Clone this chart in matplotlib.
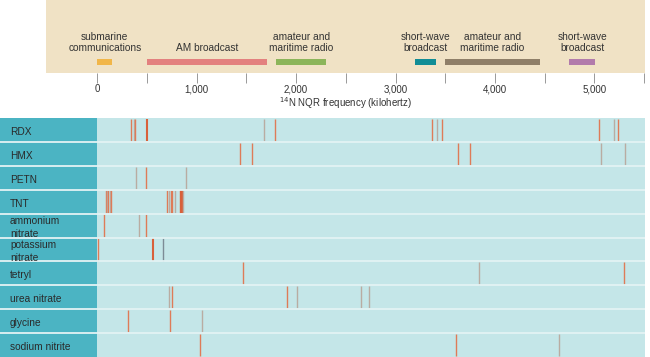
import matplotlib
matplotlib.use("Agg")
import matplotlib.pyplot as plt
from matplotlib.patches import Rectangle

plt.rcParams['font.family'] = ['Liberation Sans', 'DejaVu Sans']

# ---- data ----
band_labels = ["submarine\ncommunications", "AM broadcast", "amateur and\nmaritime radio",
               "short-wave\nbroadcast", "amateur and\nmaritime radio", "short-wave\nbroadcast"]
band_start = [0, 500, 1800, 3200, 3500, 4750]
band_end = [150, 1710, 2300, 3410, 4450, 5010]
band_colors = ["#f1b649", "#e3817f", "#8cb55a", "#118d96", "#8f7f68", "#b27bab"]

major_ticks = [0, 1000, 2000, 3000, 4000, 5000]
minor_ticks = [500, 1500, 2500, 3500, 4500, 5500]
tick_labels = ["0", "1,000", "2,000", "3,000", "4,000", "5,000"]

compounds = ["RDX", "HMX", "PETN", "TNT", "ammonium\nnitrate", "potassium\nnitrate",
             "tetryl", "urea nitrate", "glycine", "sodium nitrite"]

rdx_f = [344, 374, 384, 495, 1680, 1788, 3370, 3414, 3468, 5050, 5195, 5242]
rdx_c = ["o", "g", "o", "O", "g", "o", "o", "g", "o", "o", "g", "o"]
hmx_f = [1439, 1560, 3625, 3750, 5064, 5306]
hmx_c = ["o", "o", "o", "o", "g", "g"]
petn_f = [386, 490, 889]
petn_c = ["g", "o", "g"]
tnt_f = [88, 98, 111, 128, 138, 704, 718, 741, 755, 782, 832, 840, 848, 857, 866]
tnt_c = ["o", "g", "o", "g", "o", "o", "g", "o", "o", "g", "o", "O", "o", "O", "g"]
an_f = [71, 416, 490]
an_c = ["o", "g", "o"]
kn_f = [10, 557, 661]
kn_c = ["o", "O", "b"]
tetryl_f = [1463, 3837, 5302]
tetryl_c = ["o", "g", "o"]
urea_f = [721, 748, 1905, 2009, 2653, 2733]
urea_c = ["g", "o", "o", "g", "g", "g"]
gly_f = [309, 731, 1050]
gly_c = ["o", "o", "g"]
nano2_f = [1033, 3612, 4645]
nano2_c = ["o", "o", "g"]

row_freqs = [rdx_f, hmx_f, petn_f, tnt_f, an_f, kn_f, tetryl_f, urea_f, gly_f, nano2_f]
row_codes = [rdx_c, hmx_c, petn_c, tnt_c, an_c, kn_c, tetryl_c, urea_c, gly_c, nano2_c]
line_colors = {"o": "#de7b58", "O": "#d8603a", "g": "#b9aca2", "b": "#7d8c96"}

# ---- figure ----
W, H = 650, 357
fig = plt.figure(figsize=(W / 100, H / 100), dpi=100)

def px_to_f(px):
    return (px - 97.3) / 0.0994

# top axes
top_l, top_r, top_h = 46, 645, 73
ax = fig.add_axes([top_l / W, 1 - top_h / H, (top_r - top_l) / W, top_h / H])
ax.set_xlim(px_to_f(top_l), px_to_f(top_r))
ax.set_ylim(0, 1)
ax.set_facecolor("#f0e2c5")
for s in ax.spines.values():
    s.set_visible(False)
ax.set_yticks([])
ax.set_xticks(major_ticks)
ax.set_xticklabels(tick_labels, fontsize=7, color="#333333")
ax.set_xticks(minor_ticks, minor=True)
ax.tick_params(axis="x", which="both", length=7, width=0.7, color="#999999", pad=1)
for s, e, c, lab in zip(band_start, band_end, band_colors, band_labels):
    ax.add_patch(Rectangle((s, 0.11), e - s, 0.085, facecolor=c, edgecolor="none"))
    ax.text((s + e) / 2, 0.27, lab, ha="center", va="bottom", fontsize=7.3,
            color="#333333", linespacing=1.15)
ax.set_xlabel("$^{14}$N NQR frequency (kilohertz)", fontsize=7, color="#333333", labelpad=1)

# bottom axes
bot_top = 118
bx = fig.add_axes([0, 0, 645 / W, (H - bot_top) / H])
bx.set_xlim(px_to_f(0), px_to_f(645))
n = len(compounds)
bx.set_ylim(n, 0)
bx.axis("off")
bx.add_patch(Rectangle((0, 0), px_to_f(645), n, facecolor="#c4e6e8", edgecolor="none"))
bx.add_patch(Rectangle((px_to_f(0), 0), -px_to_f(0), n, facecolor="#4bb4c3", edgecolor="none"))
for i, (name, fs, cs) in enumerate(zip(compounds, row_freqs, row_codes)):
    for f, c in zip(fs, cs):
        lw = 1.5 if c == "O" else 1.0
        bx.plot([f, f], [i + 0.03, i + 0.97], color=line_colors[c], lw=lw, solid_capstyle="butt")
    bx.text(px_to_f(10), i + 0.58, name, ha="left", va="center", fontsize=7.3,
            color="#2a2a2a", linespacing=1.3)
for i in range(1, n):
    bx.axhline(i, color="#e3f3f4", lw=1.3)

fig.savefig("out.png", dpi=100)
